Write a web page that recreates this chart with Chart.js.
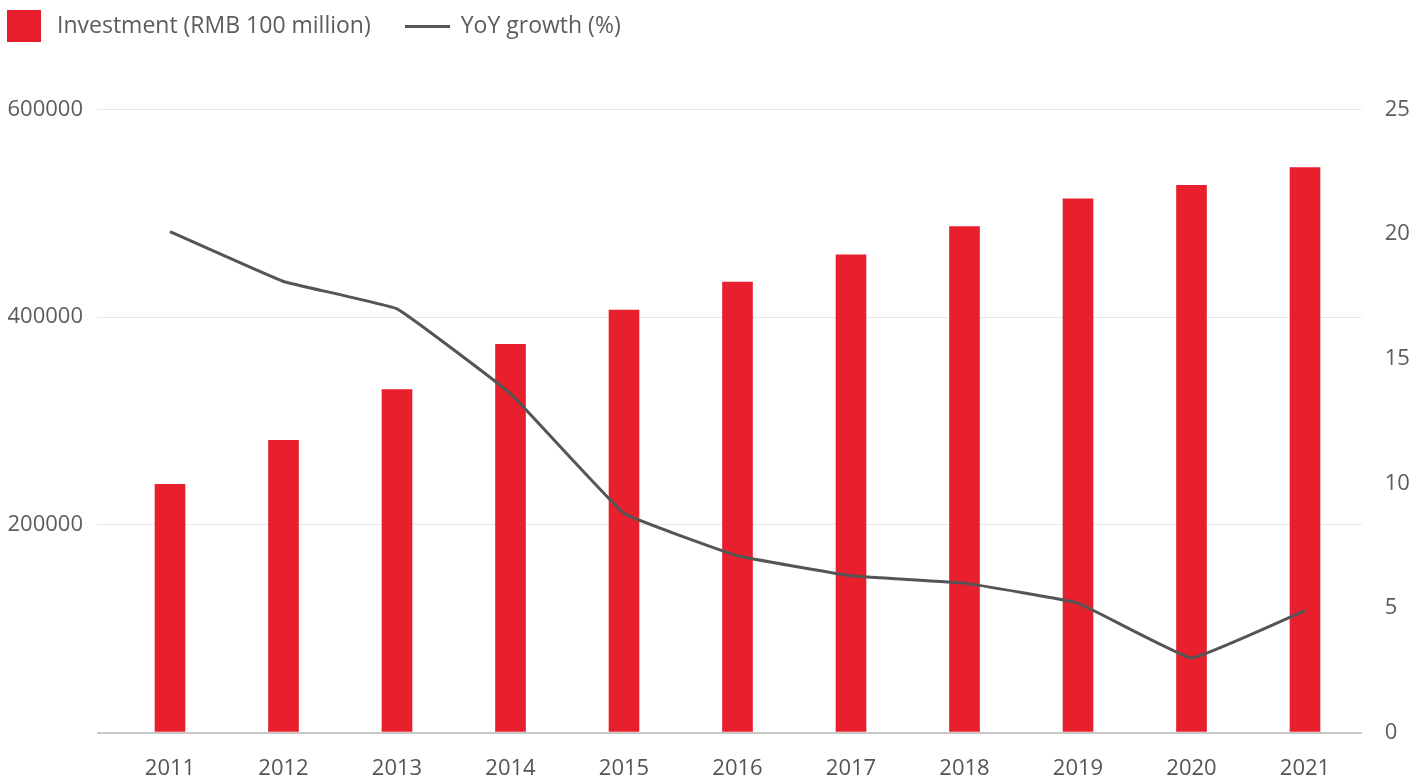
<!DOCTYPE html>
<html><head><meta charset="utf-8">
<script src="https://cdn.jsdelivr.net/npm/chart.js@4"></script>
<style>
html,body{margin:0;padding:0;background:#fff;overflow:hidden;width:1421px;height:780px;position:relative;}
#wrap{position:absolute;left:-33px;top:-21px;width:1454px;height:801px;}
</style></head><body>
<div id="wrap"><canvas id="c"></canvas></div>
<script>
const years = ['2011','2012','2013','2014','2015','2016','2017','2018','2019','2020','2021'];
const investment = [239400, 281800, 330600, 374200, 407200, 434100, 460500, 487700, 514400, 527200, 544300];
const growth = [20.1, 18.1, 17.0, 13.6, 8.8, 7.1, 6.3, 6.0, 5.2, 3.0, 4.9];
const leftTicks = [0, 200000, 400000, 600000];
const rightTicks = [0, 5, 10, 15, 20, 25];
const seriesNames = ['Investment (RMB 100 million)', 'YoY growth (%)'];

const RED = '#e81f2d';
const GREY = '#555555';
const TEXT = '#5c5c5c';

function makeIcon(w, h, color) {
  const c = document.createElement('canvas');
  c.width = w; c.height = h;
  const g = c.getContext('2d');
  g.fillStyle = color; g.fillRect(0, 0, w, h);
  return c;
}
const barIcon = makeIcon(34, 32, RED);
const lineIcon = makeIcon(45, 3, GREY);

Chart.defaults.font.family = '"Open Sans", sans-serif';
Chart.defaults.color = TEXT;

new Chart(document.getElementById('c'), {
  data: {
    labels: years,
    datasets: [
      { type: 'bar', label: seriesNames[0], data: investment, yAxisID: 'y', xAxisID: 'x',
        backgroundColor: RED, categoryPercentage: 1, barPercentage: 0.27, order: 1 },
      { type: 'line', label: seriesNames[1], data: growth, yAxisID: 'y1', xAxisID: 'x',
        borderColor: GREY, borderWidth: 3, pointRadius: 0, tension: 0.08, order: 0 }
    ]
  },
  options: {
    responsive: true, maintainAspectRatio: false, animation: false, events: [],
    layout: { padding: 0 },
    plugins: {
      tooltip: { enabled: false },
      legend: {
        position: 'top', align: 'start',
        labels: {
          usePointStyle: true, pointStyleWidth: 43, padding: 35.5,
          color: TEXT, font: { size: 23 },
          generateLabels: (chart) => chart.data.datasets.map((ds, i) => ({
            text: ds.label, datasetIndex: i, hidden: false,
            pointStyle: i === 0 ? barIcon : lineIcon,
            fillStyle: i === 0 ? RED : GREY, strokeStyle: 'rgba(0,0,0,0)', lineWidth: 0,
            fontColor: TEXT
          }))
        }
      }
    },
    scales: {
      x: {
        type: 'category', position: 'bottom', offset: true,
        grid: { display: false }, border: { display: false },
        ticks: { padding: 15, color: '#555', font: { size: 22 }, maxRotation: 0, autoSkip: false },
        afterFit: (s) => { s.height = 47.3; }
      },
      xTop: {
        type: 'category', position: 'top', offset: true,
        grid: { display: false }, border: { display: false },
        ticks: { display: false },
        afterFit: (s) => { s.height = 62; }
      },
      y: {
        type: 'linear', position: 'left', min: 0, max: 600000,
        afterBuildTicks: (s) => { s.ticks = leftTicks.map(v => ({ value: v })); },
        grid: {
          color: (c) => c.tick && c.tick.value === 0 ? '#c8c8c8' : '#e8e8e8',
          lineWidth: (c) => c.tick && c.tick.value === 0 ? 2 : 1,
          drawTicks: true, tickLength: 16.25
        },
        border: { display: false },
        ticks: { padding: 14, font: { size: 22 }, callback: (v) => v === 0 ? '' : String(v) },
        afterFit: (s) => { s.width = 146.25; }
      },
      y1: {
        type: 'linear', position: 'right', min: 0, max: 25,
        afterBuildTicks: (s) => { s.ticks = rightTicks.map(v => ({ value: v })); },
        grid: { display: false }, border: { display: false },
        ticks: { padding: 15, font: { size: 22 }, callback: (v) => String(v) },
        afterFit: (s) => { s.width = 59.25; }
      }
    }
  }
});
</script>
</body></html>
